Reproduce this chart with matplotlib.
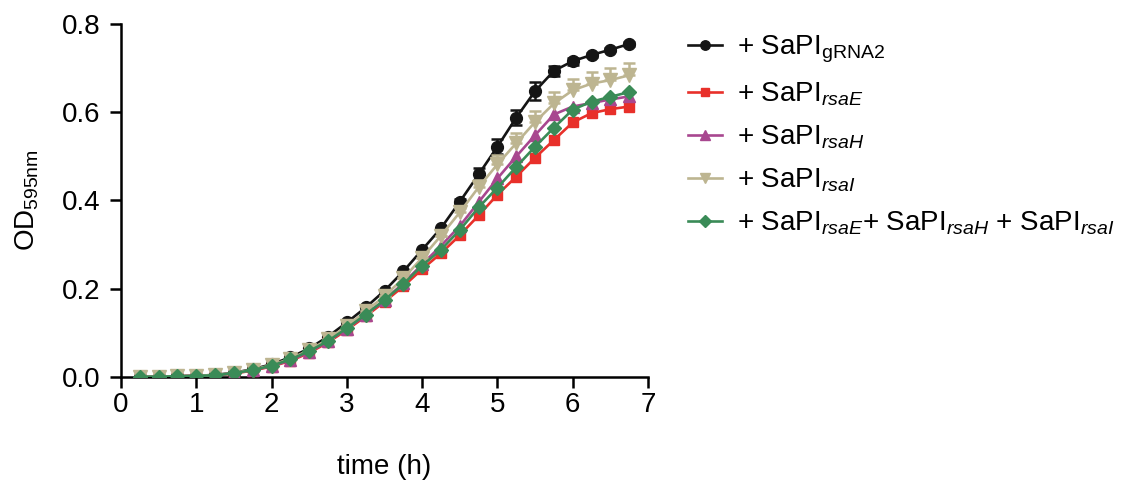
import numpy as np
import matplotlib
matplotlib.use("Agg")
import matplotlib.pyplot as plt
from matplotlib.lines import Line2D

plt.rcParams['font.family'] = ['Liberation Sans', 'DejaVu Sans']
plt.rcParams['mathtext.fontset'] = 'custom'
plt.rcParams['mathtext.rm'] = 'Liberation Sans'
plt.rcParams['mathtext.it'] = 'Liberation Sans:italic'

# sampling times (h)
time_h = np.arange(0.25, 6.76, 0.25)

# mean OD595 per strain
od_grna2 = [0.000, 0.000, 0.001, 0.002, 0.004, 0.009, 0.017, 0.028, 0.044,
            0.064, 0.091, 0.123, 0.157, 0.195, 0.239, 0.288, 0.337, 0.397,
            0.459, 0.522, 0.588, 0.648, 0.694, 0.716, 0.730, 0.742, 0.755]
od_rsaE = [0.000, 0.000, 0.001, 0.002, 0.003, 0.007, 0.014, 0.023, 0.036,
           0.054, 0.078, 0.106, 0.137, 0.170, 0.205, 0.244, 0.280, 0.321,
           0.366, 0.413, 0.454, 0.497, 0.537, 0.577, 0.598, 0.607, 0.613]
od_rsaH = [0.000, 0.000, 0.001, 0.002, 0.003, 0.008, 0.015, 0.024, 0.037,
           0.056, 0.080, 0.109, 0.140, 0.174, 0.212, 0.255, 0.297, 0.342,
           0.396, 0.450, 0.500, 0.548, 0.595, 0.613, 0.621, 0.629, 0.636]
od_rsaI = [0.000, 0.000, 0.001, 0.002, 0.004, 0.008, 0.016, 0.026, 0.041,
           0.060, 0.085, 0.115, 0.148, 0.183, 0.223, 0.270, 0.320, 0.373,
           0.430, 0.482, 0.530, 0.578, 0.620, 0.650, 0.665, 0.673, 0.684]
od_triple = [0.000, 0.000, 0.001, 0.002, 0.003, 0.008, 0.015, 0.025, 0.039,
             0.058, 0.081, 0.110, 0.141, 0.174, 0.210, 0.252, 0.288, 0.333,
             0.384, 0.429, 0.476, 0.522, 0.565, 0.606, 0.624, 0.635, 0.646]

# SEM (only visible where larger than the symbols)
err_grna2 = [0]*17 + [0.006, 0.014, 0.017, 0.017, 0.020, 0.012, 0.008,
                      0.005, 0.004, 0.004]
err_rsaI = [0]*17 + [0.010, 0.016, 0.020, 0.024, 0.025, 0.025, 0.025,
                     0.026, 0.027, 0.027]

labels = [r'+ SaPI$_{\mathregular{gRNA2}}$',
          r'+ SaPI$_{rsaE}$',
          r'+ SaPI$_{rsaH}$',
          r'+ SaPI$_{rsaI}$',
          r'+ SaPI$_{rsaE}$+ SaPI$_{rsaH}$ + SaPI$_{rsaI}$']
colors = ['#151515', '#e8302a', '#a8478f', '#bdb591', '#3a8b57']
markers = ['o', 's', '^', 'v', 'D']
msizes = [8.5, 7.8, 8.5, 9.5, 7.5]

fig = plt.figure(figsize=(11.23, 4.82), dpi=100)
ax = fig.add_axes([0.1077, 0.2185, 0.4694, 0.7315])

lw = 1.9
ax.errorbar(time_h, od_grna2, yerr=err_grna2, color=colors[0],
            marker=markers[0], ms=msizes[0], lw=lw, capsize=4, capthick=1.8,
            elinewidth=1.8, zorder=3)
ax.plot(time_h, od_rsaE, color=colors[1], marker=markers[1], ms=msizes[1],
        lw=lw, zorder=4)
ax.plot(time_h, od_rsaH, color=colors[2], marker=markers[2], ms=msizes[2],
        lw=lw, zorder=5)
ax.errorbar(time_h, od_rsaI, yerr=[np.zeros(len(err_rsaI)), err_rsaI],
            color=colors[3], marker=markers[3], ms=msizes[3], lw=lw,
            capsize=4, capthick=1.8, elinewidth=1.8, zorder=6)
ax.plot(time_h, od_triple, color=colors[4], marker=markers[4], ms=msizes[4],
        lw=lw, zorder=7)

ax.set_xlim(0, 7)
ax.set_ylim(0, 0.8)
ax.set_xticks(range(0, 8))
ax.set_yticks([0.0, 0.2, 0.4, 0.6, 0.8])
ax.set_yticklabels(['0.0', '0.2', '0.4', '0.6', '0.8'])
for side in ('top', 'right'):
    ax.spines[side].set_visible(False)
for side in ('left', 'bottom'):
    ax.spines[side].set_linewidth(1.8)
ax.tick_params(direction='out', length=8, width=1.8, labelsize=20)
ax.tick_params(axis='y', pad=7)
ax.tick_params(axis='x', pad=3)
ax.set_xlabel('time (h)', fontsize=20, labelpad=26)
ax.set_ylabel(r'OD$_{\mathregular{595nm}}$', fontsize=20, labelpad=15)

handles = [Line2D([], [], color=c, marker=m, ms=s * 0.8, lw=lw)
           for c, m, s in zip(colors, markers, msizes)]
ax.legend(handles, labels, loc='upper left', bbox_to_anchor=(0.6125, 0.93),
          bbox_transform=fig.transFigure, frameon=False, fontsize=20,
          handlelength=1.22, handletextpad=0.55, labelspacing=0.56,
          borderaxespad=0, borderpad=0)

fig.savefig('out.png', dpi=100)
